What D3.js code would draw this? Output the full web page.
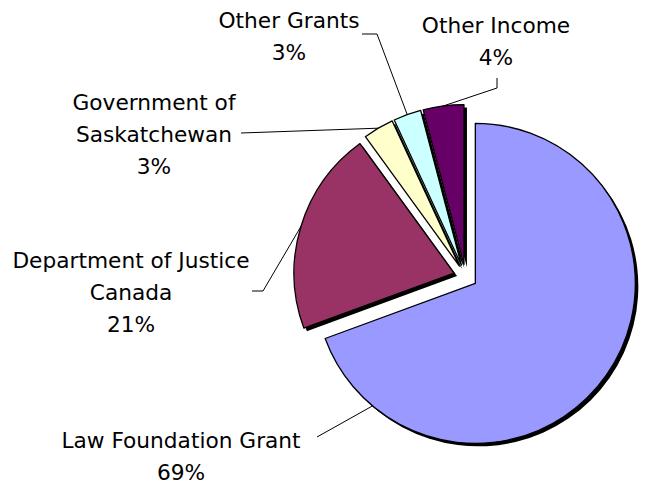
<!DOCTYPE html>
<html><head><meta charset="utf-8">
<script src="https://cdn.jsdelivr.net/npm/d3@7"></script>
<style>body{margin:0;background:#fff}svg{display:block}text{font-family:"DejaVu Sans",sans-serif;font-size:21.7px;fill:#000}</style>
</head><body><div id="chart"></div>
<script>
const categories = ["Law Foundation Grant","Department of Justice Canada","Government of Saskatchewan","Other Grants","Other Income"];
const values = [69.4, 20.6, 3.1, 2.8, 4.1];
const labelLines = [["Law Foundation Grant"],["Department of Justice","Canada"],["Government of","Saskatchewan"],["Other Grants"],["Other Income"]];
const colors = ["#9999FF","#993366","#FFFFCC","#CCFFFF","#660066"];

// layout (label placement and leader lines)
const labelLayout = [
  {x:181, y:448, leader:[[317,437]], endAngleDeg:220},
  {x:131, y:268, leader:[[252,291],[263,291]]},
  {x:154, y:110, leader:[[241,133]]},
  {x:289, y:28,  leader:[[362,34],[377,34]]},
  {x:496, y:33,  leader:[[497,78],[497,88]]}
];

const W=649,H=485, cx=465.5, cy=276.5, R=160, explode=12, lineH=32;
const svg=d3.select("#chart").append("svg").attr("width",W).attr("height",H);
const pie=d3.pie().sort(null).value(d=>d).startAngle(0);
const arcs=pie(values);
const arc=d3.arc().innerRadius(0).outerRadius(R);
const total=d3.sum(values);

function offset(a){const m=(a.startAngle+a.endAngle)/2;return [cx+explode*Math.sin(m), cy-explode*Math.cos(m)];}

const g=svg.append("g");
arcs.forEach((a,i)=>{
  const [ox,oy]=offset(a);
  g.append("path").attr("d",arc(a)).attr("transform",`translate(${ox+3},${oy+3})`).attr("fill","#000");
  g.append("path").attr("d",arc(a)).attr("transform",`translate(${ox},${oy})`)
    .attr("fill",colors[i]).attr("stroke","#000").attr("stroke-width",1.3).attr("stroke-linejoin","round");
});

// leaders
arcs.forEach((a,i)=>{
  const L=labelLayout[i];
  const [ox,oy]=offset(a);
  const ang = L.endAngleDeg!==undefined ? L.endAngleDeg*Math.PI/180 : (a.startAngle+a.endAngle)/2;
  const end=[ox+R*Math.sin(ang), oy-R*Math.cos(ang)];
  svg.append("path").attr("d",d3.line()([...L.leader,end])).attr("fill","none").attr("stroke","#000").attr("stroke-width",1);
});

// labels
arcs.forEach((a,i)=>{
  const L=labelLayout[i];
  const lines=[...labelLines[i], Math.round(values[i]/total*100)+"%"];
  const t=svg.append("text").attr("text-anchor","middle");
  lines.forEach((s,k)=>t.append("tspan").attr("x",L.x).attr("y",L.y+k*lineH).text(s));
});
</script></body></html>
